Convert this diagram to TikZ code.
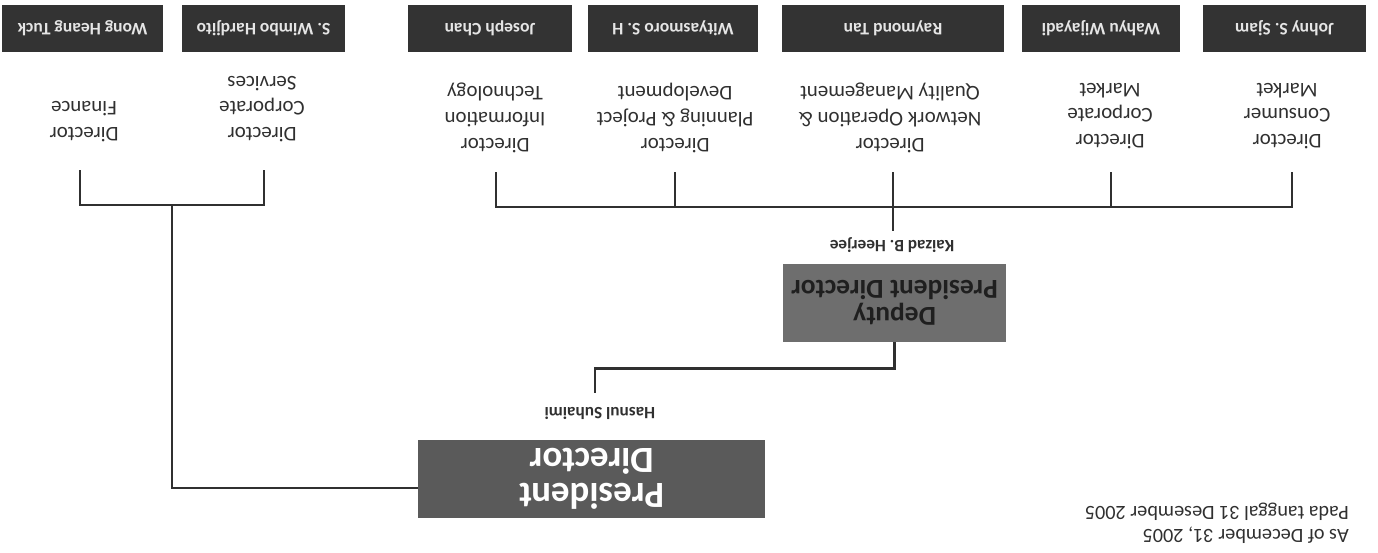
\documentclass[tikz,border=0pt]{standalone}
\usepackage{fontspec}
\setmainfont{Carlito}
\definecolor{namegray}{HTML}{333333}
\definecolor{presgray}{HTML}{5A5A5A}
\definecolor{depgray}{HTML}{6E6E6E}
\definecolor{inkgray}{HTML}{303030}

\begin{document}
\begin{tikzpicture}[x=0.02cm,y=-0.02cm,
  namebox/.style={fill=namegray,text=white!90!black,font=\bfseries\fontsize{10}{12}\selectfont,minimum height=0.94cm,inner sep=0pt,rotate=180},
  role/.style={text=inkgray,align=center,font=\fontsize{11.9}{14.7}\selectfont,rotate=180},
  keyname/.style={text=inkgray,font=\bfseries\fontsize{9.8}{12}\selectfont,rotate=180},
  wire/.style={draw=inkgray,line width=1.4pt}]
\path (0,0) rectangle (1378,552);
\node[namebox,minimum width=3.22cm] (wong) at (82.5,28.5) {Wong Heang Tuck};
\node[namebox,minimum width=3.26cm] (wimbo) at (263.5,28.5) {S. Wimbo Hardjito};
\node[namebox,minimum width=3.28cm] (joseph) at (490,28.5) {Joseph Chan};
\node[namebox,minimum width=3.40cm] (wity) at (673,28.5) {Wityasmoro S. H};
\node[namebox,minimum width=4.44cm] (raymond) at (893,28.5) {Raymond Tan};
\node[namebox,minimum width=3.16cm] (wahyu) at (1101,28.5) {Wahyu Wijayadi};
\node[namebox,minimum width=3.26cm] (johny) at (1284.5,28.5) {Johny S. Sjam};
\node[role] (lfin) at (84,122) {Director\\Finance};
\node[role] (lcs) at (262,109) {Director\\Corporate\\Services};
\node[role] (lit) at (495,118) {Director\\Information\\Technology};
\node[role] (lpp) at (675,118) {Director\\Planning \& Project\\Development};
\node[role] (lnet) at (890,118) {Director\\Network Operation \&\\Quality Management};
\node[role] (lcm) at (1110,116) {Director\\Corporate\\Market};
\node[role] (lcon) at (1287,116) {Director\\Consumer\\Market};
\node[keyname] (kaizad) at (892,245) {Kaizad B. Heerjee};
\node[fill=depgray,text=black!88,minimum width=4.46cm,minimum height=1.56cm,align=center,font=\bfseries\fontsize{15.6}{15.6}\selectfont,rotate=180] (deputy) at (894.5,303) {Deputy\\President Director};
\node[keyname] (hasnul) at (600,413) {Hasnul Suhaimi};
\node[fill=presgray,text=white,minimum width=6.94cm,minimum height=1.56cm,align=center,font=\bfseries\fontsize{21}{19.8}\selectfont,rotate=180] (pres) at (591.5,479) {President\\Director};
\node[role,anchor=west,align=left,font=\fontsize{11.5}{13}\selectfont] (asof) at (1355,523) {As of December 31, 2005\\Pada tanggal 31 Desember 2005};
\coordinate (finT) at (80,170);
\coordinate (csT) at (264,170);
\coordinate (leftJ) at (172,205);
\coordinate (presL) at (418,488);
\coordinate (itT) at (496,172);
\coordinate (ppT) at (675,172);
\coordinate (netT) at (893,172);
\coordinate (cmT) at (1111,172);
\coordinate (conT) at (1292,172);
\coordinate (netJ) at (893,207);
\coordinate (hasT) at (595,393);
\draw[wire] (finT) |- (csT |- leftJ) -- (csT);
\draw[wire] (leftJ) |- (presL);
\draw[wire] (itT) |- (conT |- netJ) -- (conT);
\foreach \c in {ppT,netT,cmT}
  \draw[wire] (\c) -- (\c |- netJ);
\draw[wire] (netJ) -- (netJ |- kaizad.south);
\draw[wire] (deputy.north) -- ++(0,26) -| (hasT);
\end{tikzpicture}
\end{document}
